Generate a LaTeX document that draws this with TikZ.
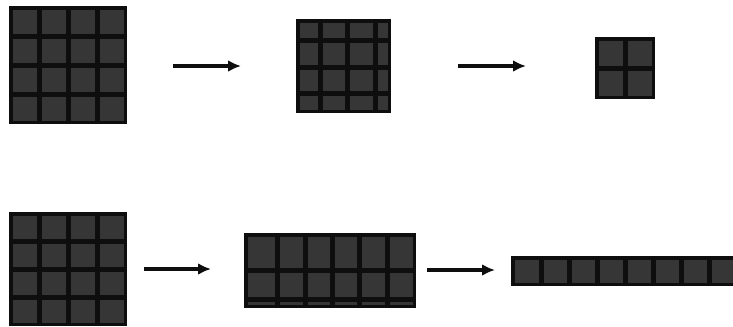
\documentclass[tikz,border=0pt]{standalone}
\usetikzlibrary{arrows.meta}
\definecolor{mapInk}{HTML}{0E0E0E}
\definecolor{mapCell}{HTML}{363636}

\tikzset{
  mapframe/.style={draw=mapInk,fill=mapInk,line width=1.2pt},
  mapcell/.style={fill=mapCell},
  flowarrow/.style={-{Latex[length=11pt,width=10pt]},draw=mapInk,line width=3.2pt}
}

\begin{document}
\begin{tikzpicture}[x=0.03cm,y=-0.03cm]
\useasboundingbox (0,0) rectangle (733,326);
% top row: 4x4 -> 3.5x3.5 -> 2x2
\draw[mapframe] (10,7) rectangle (126,123);
\foreach \xa/\xb in {10/39,39/68,68/97,97/126}
  \foreach \ya/\yb in {7/36,36/65,65/94,94/123}
    \fill[mapcell] (\xa+2.5,\ya+2.5) rectangle (\xb-2.5,\yb-2.5);
\draw[mapframe] (297,20) rectangle (390,112);
\foreach \xa/\xb in {297/320,320/347,347/375,375/390}
  \foreach \ya/\yb in {20/40,40/67,67/93,93/112}
    \fill[mapcell] (\xa+2.5,\ya+2.5) rectangle (\xb-2.5,\yb-2.5);
\draw[mapframe] (596,38) rectangle (654,98);
\foreach \xa/\xb in {596/625,625/654}
  \foreach \ya/\yb in {38/68,68/98}
    \fill[mapcell] (\xa+2.5,\ya+2.5) rectangle (\xb-2.5,\yb-2.5);
% bottom row: 4x4 -> 6x2 -> 8x1
\draw[mapframe] (10,213) rectangle (126,325);
\foreach \xa/\xb in {10/39,39/68,68/97,97/126}
  \foreach \ya/\yb in {213/241,241/269,269/297,297/325}
    \fill[mapcell] (\xa+2.5,\ya+2.5) rectangle (\xb-2.5,\yb-2.5);
\draw[mapframe] (245,234) rectangle (415,307);
\foreach \xa/\xb in {245/277,277/305,305/332,332/359,359/387,387/415}
  \foreach \ya/\yb in {234/270,270/299,299/307}
    \fill[mapcell] (\xa+2.5,\ya+2.5) rectangle (\xb-2.5,\yb-2.5);
\draw[mapframe] (512,257) rectangle (740,285);
\foreach \xa/\xb in {512/541,541/569,569/597,597/625,625/653,653/681,681/709,709/737}
  \fill[mapcell] (\xa+2.5,259.5) rectangle (\xb-2.5,282.5);
% arrows
\coordinate (t1s) at (173,66);
\coordinate (t1e) at (241,66);
\coordinate (t2s) at (458,66);
\coordinate (t2e) at (526,66);
\coordinate (b1s) at (144,269);
\coordinate (b1e) at (211,269);
\coordinate (b2s) at (427,270);
\coordinate (b2e) at (495,270);
\draw[flowarrow] (t1s) -- (t1e);
\draw[flowarrow] (t2s) -- (t2e);
\draw[flowarrow] (b1s) -- (b1e);
\draw[flowarrow] (b2s) -- (b2e);
\end{tikzpicture}
\end{document}
